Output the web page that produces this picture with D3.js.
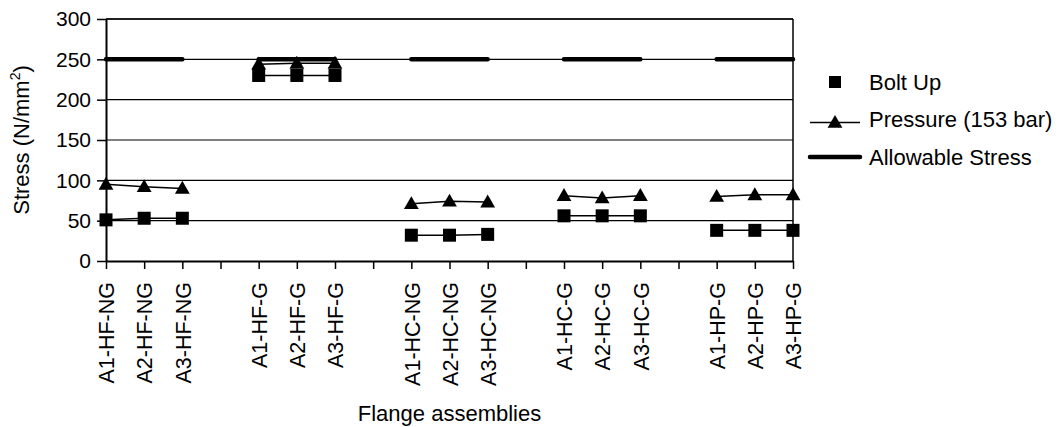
<!DOCTYPE html>
<html>
<head>
<meta charset="utf-8">
<script src="https://cdn.jsdelivr.net/npm/d3@7"></script>
<style>
  body { margin: 0; background: #fff; }
  svg { display: block; font-family: "Liberation Sans", Arial, sans-serif; }
</style>
</head>
<body>
<div id="chart"></div>
<script>
// empty strings are the blank slots between groups
const categories = [
  "A1-HF-NG", "A2-HF-NG", "A3-HF-NG", "",
  "A1-HF-G", "A2-HF-G", "A3-HF-G", "",
  "A1-HC-NG", "A2-HC-NG", "A3-HC-NG", "",
  "A1-HC-G", "A2-HC-G", "A3-HC-G", "",
  "A1-HP-G", "A2-HP-G", "A3-HP-G"
];
const boltUp = [51, 53, 53, null, 230, 230, 230, null, 32, 32, 33, null, 56, 56, 56, null, 38, 38, 38];
const pressure = [95, 92, 90, null, 244, 245, 245, null, 71, 74, 73, null, 81, 78, 81, null, 80, 82, 82];
const allowable = [250, 250, 250, null, 250, 250, 250, null, 250, 250, 250, null, 250, 250, 250, null, 250, 250, 250];
const yTicks = [0, 50, 100, 150, 200, 250, 300];

const W = 1059, H = 427;
const plotL = 106, plotR = 793, plotT = 19, plotB = 261;

const svg = d3.select('#chart').append('svg')
    .attr('width', W)
    .attr('height', H);

const x = d3.scalePoint()
    .domain(d3.range(categories.length))
    .range([plotL, plotR]);

const y = d3.scaleLinear()
    .domain([0, 300])
    .range([plotB, plotT]);

// gridlines
svg.append('g')
    .selectAll('line')
    .data(yTicks.filter(d => d > 0))
    .enter().append('line')
    .attr('x1', plotL).attr('x2', plotR)
    .attr('y1', d => y(d)).attr('y2', d => y(d))
    .attr('stroke', '#000')
    .attr('stroke-width', 1.2);

// right border
svg.append('line')
    .attr('x1', plotR).attr('x2', plotR)
    .attr('y1', plotT).attr('y2', plotB)
    .attr('stroke', '#000').attr('stroke-width', 1.5);

// Y axis
const yAxis = svg.append('g')
    .attr('transform', 'translate(' + plotL + ',0)')
    .call(d3.axisLeft(y).tickValues(yTicks).tickSize(9).tickSizeOuter(0).tickPadding(6));
yAxis.select('.domain').attr('stroke', '#000').attr('stroke-width', 2);
yAxis.selectAll('.tick line').attr('stroke', '#000').attr('stroke-width', 1.5);
yAxis.selectAll('text')
    .attr('font-size', '21px')
    .attr('fill', '#000')
    .attr('font-family', '"Liberation Sans", Arial, sans-serif');

// X axis
const xAxis = svg.append('g')
    .attr('transform', 'translate(0,' + plotB + ')')
    .call(d3.axisBottom(x).tickFormat(i => categories[i]).tickSize(8).tickSizeOuter(0));
xAxis.select('.domain').attr('stroke', '#000').attr('stroke-width', 2);
xAxis.selectAll('.tick line').attr('stroke', '#000').attr('stroke-width', 1.5);
xAxis.selectAll('text')
    .attr('font-size', '21.5px')
    .attr('fill', '#000')
    .attr('font-family', '"Liberation Sans", Arial, sans-serif')
    .attr('transform', 'rotate(-90)')
    .attr('x', -21)
    .attr('y', 0)
    .attr('dy', '0.36em')
    .style('text-anchor', 'end');

// top border of the plot
svg.append('line')
    .attr('x1', plotL).attr('x2', plotR)
    .attr('y1', plotT).attr('y2', plotT)
    .attr('stroke', '#000').attr('stroke-width', 1.5);

// series
const line = vals => d3.line()
    .defined(i => vals[i] != null)
    .x(i => x(i))
    .y(i => y(vals[i]))(d3.range(vals.length));

svg.append('path')
    .attr('d', line(allowable))
    .attr('fill', 'none')
    .attr('stroke', '#000')
    .attr('stroke-width', 4.5)
    .attr('stroke-linecap', 'round');

svg.append('path')
    .attr('d', line(boltUp))
    .attr('fill', 'none')
    .attr('stroke', '#000')
    .attr('stroke-width', 1.5);

svg.append('path')
    .attr('d', line(pressure))
    .attr('fill', 'none')
    .attr('stroke', '#000')
    .attr('stroke-width', 1.5);

const idx = d3.range(categories.length);

svg.append('g')
    .selectAll('rect')
    .data(idx.filter(i => boltUp[i] != null))
    .enter().append('rect')
    .attr('x', i => x(i) - 6.5)
    .attr('y', i => y(boltUp[i]) - 6.5)
    .attr('width', 13)
    .attr('height', 13)
    .attr('fill', '#000');

const tri = d3.symbol().type(d3.symbolTriangle).size(95);
svg.append('g')
    .selectAll('path')
    .data(idx.filter(i => pressure[i] != null))
    .enter().append('path')
    .attr('d', tri)
    .attr('transform', i => 'translate(' + x(i) + ',' + (y(pressure[i]) + 1) + ')')
    .attr('fill', '#000');

// axis titles
svg.append('text')
    .attr('transform', 'translate(29,' + ((plotT + plotB) / 2) + ') rotate(-90)')
    .attr('text-anchor', 'middle')
    .attr('font-size', '22px')
    .call(t => {
        t.append('tspan').text('Stress (N/mm');
        t.append('tspan').attr('font-size', '14px').attr('dy', '-9').text('2');
        t.append('tspan').attr('dy', '9').text(')');
    });

svg.append('text')
    .attr('x', (plotL + plotR) / 2)
    .attr('y', 421)
    .attr('text-anchor', 'middle')
    .attr('font-size', '22px')
    .text('Flange assemblies');

// legend
const legend = svg.append('g');
const lx = 835, tx = 869;
legend.append('rect')
    .attr('x', lx - 6).attr('y', 82 - 6)
    .attr('width', 12).attr('height', 12)
    .attr('fill', '#000');
legend.append('line')
    .attr('x1', 810).attr('x2', 860)
    .attr('y1', 122.5).attr('y2', 122.5)
    .attr('stroke', '#000').attr('stroke-width', 1.5);
legend.append('path')
    .attr('d', tri)
    .attr('transform', 'translate(' + lx + ',' + 123.5 + ')')
    .attr('fill', '#000');
legend.append('line')
    .attr('x1', 810).attr('x2', 860)
    .attr('y1', 157).attr('y2', 157)
    .attr('stroke', '#000').attr('stroke-width', 4.5)
    .attr('stroke-linecap', 'round');

const legendLabels = ['Bolt Up', 'Pressure (153 bar)', 'Allowable Stress'];
legend.selectAll('text')
    .data(legendLabels)
    .enter().append('text')
    .attr('x', tx)
    .attr('y', (d, i) => 82 + i * 37.5)
    .attr('dy', '0.36em')
    .attr('font-size', '22px')
    .text(d => d);
</script>
</body>
</html>
